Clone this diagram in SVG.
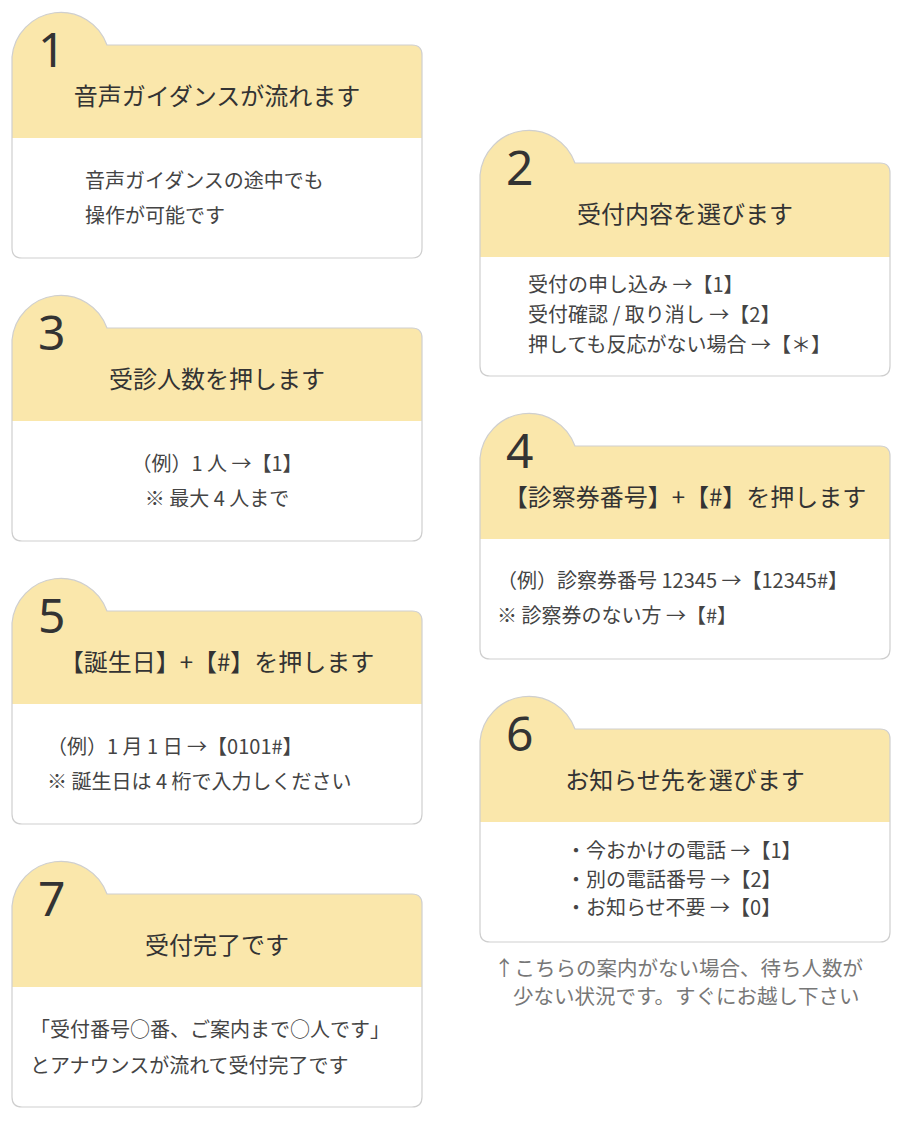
<svg xmlns="http://www.w3.org/2000/svg" width="902" height="1124" viewBox="0 0 902 1124">
<style>
.card{fill:none;stroke:#cfcfcf;stroke-width:1.2}
.hd{fill:#fae7ab}
.num{font-family:"Noto Sans",sans-serif;font-size:48px;fill:#333}
.ht{font-family:"Noto Sans CJK JP",sans-serif;font-size:24px;fill:#333;text-anchor:middle}
.bt{font-family:"Noto Sans CJK JP",sans-serif;font-size:20px;fill:#444}
.note{font-family:"Noto Sans CJK JP",sans-serif;font-size:20.5px;fill:#777}
</style>
<rect width="902" height="1124" fill="#fff"/>
<g id="card1">
<path class="hd" d="M12,57 A49 49 0 0 1 107,45 H412 Q422,45 422,55 V138 H12 Z"/>
<path class="card" d="M12,57 A49 49 0 0 1 107,45 H412 Q422,45 422,55 V248 Q422,258 412,258 H22 Q12,258 12,248 Z"/>
<text class="num" x="38" y="67">1</text>
<text class="ht" x="217" y="105">音声ガイダンスが流れます</text>
<text class="bt" x="85" y="188">音声ガイダンスの途中でも</text>
<text class="bt" x="85" y="223">操作が可能です</text>
</g>
<g id="card2">
<path class="hd" d="M480,175 A49 49 0 0 1 575,163 H880 Q890,163 890,173 V257 H480 Z"/>
<path class="card" d="M480,175 A49 49 0 0 1 575,163 H880 Q890,163 890,173 V366 Q890,376 880,376 H490 Q480,376 480,366 Z"/>
<text class="num" x="506" y="185">2</text>
<text class="ht" x="685" y="223">受付内容を選びます</text>
<text class="bt" x="528" y="292">受付の申し込み →【1】</text>
<text class="bt" x="528" y="322">受付確認 / 取り消し →【2】</text>
<text class="bt" x="528" y="352">押しても反応がない場合 →【＊】</text>
</g>
<g id="card3">
<path class="hd" d="M12,340 A49 49 0 0 1 107,328 H412 Q422,328 422,338 V421 H12 Z"/>
<path class="card" d="M12,340 A49 49 0 0 1 107,328 H412 Q422,328 422,338 V531 Q422,541 412,541 H22 Q12,541 12,531 Z"/>
<text class="num" x="38" y="350">3</text>
<text class="ht" x="217" y="388">受診人数を押します</text>
<text class="bt" x="217" y="471" text-anchor="middle">（例）1 人 →【1】</text>
<text class="bt" x="217" y="506" text-anchor="middle">※ 最大 4 人まで</text>
</g>
<g id="card4">
<path class="hd" d="M480,458 A49 49 0 0 1 575,446 H880 Q890,446 890,456 V539 H480 Z"/>
<path class="card" d="M480,458 A49 49 0 0 1 575,446 H880 Q890,446 890,456 V649 Q890,659 880,659 H490 Q480,659 480,649 Z"/>
<text class="num" x="506" y="468">4</text>
<text class="ht" x="685" y="506">【診察券番号】+【#】を押します</text>
<text class="bt" x="497" y="588">（例）診察券番号 12345 →【12345#】</text>
<text class="bt" x="497" y="623">※ 診察券のない方 →【#】</text>
</g>
<g id="card5">
<path class="hd" d="M12,623 A49 49 0 0 1 107,611 H412 Q422,611 422,621 V704 H12 Z"/>
<path class="card" d="M12,623 A49 49 0 0 1 107,611 H412 Q422,611 422,621 V814 Q422,824 412,824 H22 Q12,824 12,814 Z"/>
<text class="num" x="38" y="633">5</text>
<text class="ht" x="217" y="671">【誕生日】+【#】を押します</text>
<text class="bt" x="47" y="754">（例）1 月 1 日 →【0101#】</text>
<text class="bt" x="47" y="789">※ 誕生日は 4 桁で入力しください</text>
</g>
<g id="card6">
<path class="hd" d="M480,741 A49 49 0 0 1 575,729 H880 Q890,729 890,739 V822 H480 Z"/>
<path class="card" d="M480,741 A49 49 0 0 1 575,729 H880 Q890,729 890,739 V932 Q890,942 880,942 H490 Q480,942 480,932 Z"/>
<text class="num" x="506" y="751">6</text>
<text class="ht" x="685" y="789">お知らせ先を選びます</text>
<text class="bt" x="566" y="858">・今おかけの電話 →【1】</text>
<text class="bt" x="566" y="887">・別の電話番号 →【2】</text>
<text class="bt" x="566" y="915">・お知らせ不要 →【0】</text>
</g>
<g id="note">
<text class="note" x="494" y="976">↑こちらの案内がない場合、待ち人数が</text>
<text class="note" x="513" y="1004">少ない状況です。すぐにお越し下さい</text>
</g>
<g id="card7">
<path class="hd" d="M12,906 A49 49 0 0 1 107,894 H412 Q422,894 422,904 V1097 Q422,1107 412,1107 H22 Q12,1107 12,1097 Z" style="display:none"/>
<path class="hd" d="M12,906 A49 49 0 0 1 107,894 H412 Q422,894 422,904 V987 H12 Z"/>
<path class="card" d="M12,906 A49 49 0 0 1 107,894 H412 Q422,894 422,904 V1097 Q422,1107 412,1107 H22 Q12,1107 12,1097 Z"/>
<text class="num" x="38" y="916">7</text>
<text class="ht" x="217" y="954">受付完了です</text>
<text class="bt" x="30" y="1037">「受付番号○番、ご案内まで○人です」</text>
<text class="bt" x="30" y="1073">とアナウンスが流れて受付完了です</text>
</g>
<g id="connectors"></g>
</svg>
